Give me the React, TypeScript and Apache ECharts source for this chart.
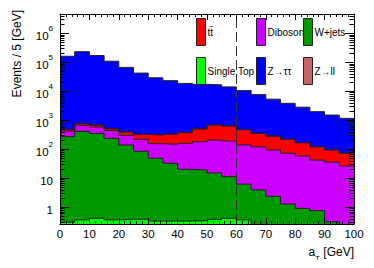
import React, { useEffect, useRef } from "react";
import * as echarts from "echarts";

const binEdges = [0, 5, 10, 15, 20, 25, 30, 35, 40, 45, 50, 55, 60, 65, 70, 75, 80, 85, 90, 95, 100];
const singleTop = [0.3, 0.36, 0.41, 0.36, 0.38, 0.38, 0.33, 0.33, 0.33, 0.34, 0.375, 0.41, 0.36, 0.15, 0.15, 0.15, 0.15, 0.15, 0.15, 0.1];
const wJets = [268, 410, 350, 236, 138, 84, 48, 32, 19.7, 18.7, 14.6, 10.8, 5.8, 3.75, 2.2, 1.12, 0.75, 0.6, 0.16, 0.01];
const diboson = [152, 255, 230, 199, 162, 134, 106, 114, 138, 161, 190, 179, 134, 116, 91, 71, 57, 41, 35, 26];
const ttbar = [60, 90, 100, 70, 90, 107, 154, 184, 212, 320, 475, 440, 330, 230, 190, 146, 108, 78, 58, 46];
const zll = [1, 1, 1, 1, 1, 1, 1, 1, 1, 1, 1, 1, 1, 1, 1, 1, 1, 1, 1, 1];
const ztautau = [159500, 229200, 169300, 107500, 65600, 41700, 28700, 22700, 18100, 16700, 15800, 13400, 10000, 7250, 5000, 3580, 2630, 1840, 1400, 1080];

// stack order, bottom to top
const seriesNames = ["Single Top", "W+jets", "Diboson", "tt\u0304", "Z\u2192ll", "Z\u2192\u03c4\u03c4"];
const seriesColors = ["#00ff00", "#009900", "#cc00ff", "#ff0000", "#c86464", "#0000ff"];
const seriesValues = [singleTop, wJets, diboson, ttbar, zll, ztautau];
const legendColumns = [
  ["tt\u0304", "Single Top"],
  ["Diboson", "Z\u2192\u03c4\u03c4"],
  ["W+jets", "Z\u2192ll"],
];
const cutValue = 60;
const xMin = 0;
const xMax = 100;
const yMin = 0.26;
const yMax = 4.6e6;

const FONT = "'Liberation Sans', Arial, Helvetica, sans-serif";

function toSteps(vals: number[]) {
  const pts = vals.map((v, i) => [binEdges[i], v]);
  pts.push([binEdges[vals.length], vals[vals.length - 1]]);
  return pts;
}

function logLabel(v: number) {
  const l = Math.log10(v);
  const e = Math.round(l);
  if (Math.abs(l - e) > 0.01) return "";
  if (e === 0) return "{b|1}";
  if (e === 1) return "{b|10}";
  return "{b|10}{s|" + e + "}";
}

export default function App() {
  const ref = useRef<HTMLDivElement>(null);
  useEffect(() => {
    if (!ref.current) return;
    const chart = echarts.init(ref.current, null, { renderer: "svg" });

    // cumulative sums (THStack style): each histogram drawn at its stacked top
    const cumulative: number[][] = [];
    seriesValues.forEach((vals, i) => {
      cumulative.push(vals.map((v, j) => v + (i > 0 ? cumulative[i - 1][j] : 0)));
    });

    const series: any[] = [];
    for (let i = seriesNames.length - 1; i >= 0; i--) {
      series.push({
        name: seriesNames[i],
        type: "line",
        step: "end",
        symbol: "none",
        xAxisIndex: 0,
        yAxisIndex: 0,
        color: seriesColors[i],
        itemStyle: { color: seriesColors[i] },
        lineStyle: { color: "#222", width: 1 },
        areaStyle: { color: seriesColors[i], opacity: 1, origin: "start" },
        data: toSteps(cumulative[i]),
        z: 2,
      });
    }
    series.push({
      name: "cut",
      type: "line",
      data: [],
      silent: true,
      markLine: {
        silent: true,
        symbol: "none",
        label: { show: false },
        lineStyle: { color: "#333", width: 1, type: [10, 4] },
        data: [{ xAxis: cutValue }],
      },
      z: 5,
    });
    const labelRich = {
      b: { fontSize: 11.5, fontFamily: FONT, color: "#000", padding: [5, 0, 0, 0] },
      s: { fontSize: 8, fontFamily: FONT, color: "#000", verticalAlign: "top" },
    };
    const option: any = {
      animation: false,
      textStyle: { fontFamily: FONT },
      grid: { left: 60, right: 20, top: 14, bottom: 44 },
      legend: legendColumns.map((col, i) => ({
        data: col,
        orient: "vertical",
        left: [196, 256, 303][i],
        top: 18,
        padding: 0,
        itemWidth: 9,
        itemHeight: 27,
        itemGap: 11,
        icon: "rect",
        selectedMode: false,
        itemStyle: { borderColor: "#222", borderWidth: 1 },
        textStyle: { fontSize: 10, color: "#000", fontFamily: FONT, padding: [0, 0, 0, -3] },
      })),
      xAxis: [
        {
          type: "value",
          min: xMin,
          max: xMax,
          interval: 10,
          z: 10,
          axisLine: { show: true, onZero: false, lineStyle: { color: "#000", width: 1 } },
          axisTick: { show: true, inside: true, length: 6, lineStyle: { color: "#000" } },
          minorTick: { show: true, splitNumber: 5, length: 3, lineStyle: { color: "#000" } },
          splitLine: { show: false },
          axisLabel: { fontSize: 11.5, color: "#000", margin: 4, fontFamily: FONT },
        },
        {
          type: "value",
          position: "top",
          min: xMin,
          max: xMax,
          interval: 10,
          z: 10,
          axisLine: { show: true, onZero: false, lineStyle: { color: "#000", width: 1 } },
          axisTick: { show: true, inside: true, length: 6, lineStyle: { color: "#000" } },
          minorTick: { show: true, splitNumber: 5, length: 3, lineStyle: { color: "#000" } },
          splitLine: { show: false },
          axisLabel: { show: false },
        },
      ],
      yAxis: [
        {
          type: "log",
          logBase: 10,
          min: yMin,
          max: yMax,
          z: 10,
          axisLine: { show: true, onZero: false, lineStyle: { color: "#000", width: 1 } },
          axisTick: { show: true, inside: true, length: 9, lineStyle: { color: "#000" } },
          splitLine: { show: false },
          axisLabel: {
            margin: 7,
            showMinLabel: false,
            showMaxLabel: false,
            formatter: logLabel,
            rich: labelRich,
          },
        },
        {
          type: "log",
          logBase: 10,
          position: "right",
          min: yMin,
          max: yMax,
          z: 10,
          axisLine: { show: true, onZero: false, lineStyle: { color: "#000", width: 1 } },
          axisTick: { show: true, inside: true, length: 9, lineStyle: { color: "#000" } },
          splitLine: { show: false },
          axisLabel: { show: false },
        },
      ],
      series,
    };
    chart.setOption(option);

    const xl = chart.convertToPixel({ xAxisIndex: 0 }, xMin) as number;
    const xr = chart.convertToPixel({ xAxisIndex: 0 }, xMax) as number;
    const elements: any[] = [];
    for (let e = -1; e <= 6; e++) {
      for (let k = 2; k <= 9; k++) {
        const v = k * Math.pow(10, e);
        if (v <= yMin || v >= yMax) continue;
        const py = Math.round(chart.convertToPixel({ yAxisIndex: 0 }, v) as number) + 0.5;
        elements.push({
          type: "line",
          silent: true,
          z: 100,
          shape: { x1: xl, y1: py, x2: xl + 4.5, y2: py },
          style: { stroke: "#000", lineWidth: 1 },
        });
        elements.push({
          type: "line",
          silent: true,
          z: 100,
          shape: { x1: xr, y1: py, x2: xr - 4.5, y2: py },
          style: { stroke: "#000", lineWidth: 1 },
        });
      }
    }
    elements.push({
      type: "text",
      x: 17,
      y: 10,
      rotation: Math.PI / 2,
      z: 100,
      style: {
        text: "Events / 5 [GeV]",
        fill: "#000",
        font: "12px " + FONT,
        align: "right",
        verticalAlign: "middle",
      },
    });
    elements.push({
      type: "text",
      x: xr,
      y: 254,
      z: 100,
      style: {
        text: "{a|a}{t|T}{a| [GeV]}",
        fill: "#000",
        align: "right",
        verticalAlign: "middle",
        rich: {
          a: { fontSize: 12, fontFamily: FONT, color: "#000", padding: [0, 0, 4, 0] },
          t: { fontSize: 8, fontFamily: FONT, color: "#000", verticalAlign: "bottom" },
        },
      },
    });
    chart.setOption({ graphic: { elements } });
    return () => chart.dispose();
  }, []);
  return <div ref={ref} style={{ width: 374, height: 268, margin: -8 }} />;
}
